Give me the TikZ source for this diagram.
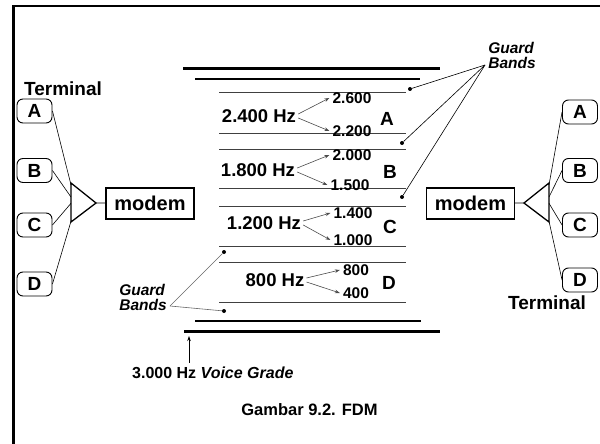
\documentclass[tikz,border=0pt]{standalone}
\usepackage{fontspec}
\setmainfont{Liberation Sans}
\usetikzlibrary{calc,arrows.meta}

\begin{document}
\begin{tikzpicture}[x=1pt,y=-1pt,
        term/.style={draw, line width=0.9pt, rounded corners=6pt, minimum width=35pt, minimum height=24pt, inner sep=0pt, font=\fontsize{19}{19}\selectfont\bfseries},
        modembox/.style={draw, line width=1.3pt, minimum width=88pt, minimum height=31pt, inner sep=0pt, font=\fontsize{20}{20}\selectfont\bfseries},
        freq/.style={font=\fontsize{18.5}{18.5}\selectfont\bfseries, inner sep=0pt},
        sub/.style={font=\fontsize{15.5}{15.5}\selectfont\bfseries, inner sep=0pt},
        chan/.style={font=\fontsize{19}{19}\selectfont\bfseries, inner sep=0pt},
        guard/.style={font=\fontsize{15.5}{15}\selectfont\bfseries\itshape, align=left, inner sep=0pt},
        band/.style={line width=1pt, black!75},
        gdot/.style={circle, fill, inner sep=0pt, minimum size=4pt},
        sarrow/.style={->, line width=0.6pt, black!70},
        >={Stealth[length=5pt,width=3.5pt]}
    ]
        \useasboundingbox (0,0) rectangle (600,444);
        % Bingkai
        \draw[line width=2.4pt] (13.5,444) -- (13.5,6) -- (600,6);
        % Garis pita frekuensi
        \draw[line width=3pt] (183,69) -- (440,69);
        \draw[line width=1.5pt] (195,79) -- (420,79);
        \foreach \y in {93,133,149,188,206,246,262,302}
            \draw[band] (219,\y) -- (406,\y);
        \draw[line width=1.5pt] (195,321) -- (421,321);
        \draw[line width=3pt] (184,331) -- (440,331);
        % Kanal A-D
        \node[freq] (fA) at (259,116) {2.400 Hz};
        \node[sub] (hA) at (352,98) {2.600};
        \node[sub] (lA) at (352,131) {2.200};
        \node[chan] (chA) at (387,119) {A};
        \node[freq] (fB) at (258,170) {1.800 Hz};
        \node[sub] (hB) at (352,155) {2.000};
        \node[sub] (lB) at (350,185) {1.500};
        \node[chan] (chB) at (390,172) {B};
        \node[freq] (fC) at (264,223) {1.200 Hz};
        \node[sub] (hC) at (353,213) {1.400};
        \node[sub] (lC) at (353,240) {1.000};
        \node[chan] (chC) at (390,227) {C};
        \node[freq] (fD) at (275,280) {800 Hz};
        \node[sub] (hD) at (356,270) {800};
        \node[sub] (lD) at (356,293) {400};
        \node[chan] (chD) at (389,283) {D};
        \foreach \c in {A,B,C,D}{
            \draw[sarrow] ([xshift=2pt,yshift=2pt]f\c.east) -- ([xshift=-3pt]h\c.west);
            \draw[sarrow] ([xshift=2pt,yshift=-2pt]f\c.east) -- ([xshift=-3pt]l\c.west);
        }
        % Guard bands
        \node[gdot] (g1) at (410,89) {};
        \node[gdot] (g2) at (402,143) {};
        \node[gdot] (g3) at (402,197) {};
        \node[gdot] (g4) at (224,252) {};
        \node[gdot] (g5) at (224,311) {};
        \node[guard] (gbU) at (512,55) {Guard\\Bands};
        \node[guard] (gbL) at (143,297) {Guard\\Bands};
        \coordinate (gU) at (485,65);
        \coordinate (gL) at (170,306);
        \foreach \d in {g1,g2,g3}
            \draw[line width=0.6pt] (gU) -- (\d);
        \foreach \d in {g4,g5}
            \draw[line width=0.6pt, black!60] (gL) -- (\d);
        % Terminal kiri
        \node[font=\fontsize{19}{19}\selectfont\bfseries] (tL) at (63,89) {Terminal};
        \node[term] (LA) at (34.5,111) {A};
        \node[term] (LB) at (34.5,170.5) {B};
        \node[term] (LC) at (34.5,225) {C};
        \node[term] (LD) at (34.5,284) {D};
        \coordinate (L1) at (71,183);
        \coordinate (L2) at (71,222);
        \coordinate (L3) at (96,203);
        \draw[line width=1.3pt] (L1) -- (L3) -- (L2) -- cycle;
        \node[modembox] (mL) at (150,203.5) {modem};
        \draw[line width=0.8pt] (L3) -- (mL);
        \draw[line width=0.6pt] (LA.east) -- ($(L1)!.05!(L2)$);
        \draw[line width=0.6pt] (LB.east) -- ($(L1)!.36!(L2)$);
        \draw[line width=0.6pt] (LC.east) -- ($(L1)!.52!(L2)$);
        \draw[line width=0.6pt] (LD.east) -- ($(L1)!.98!(L2)$);
        % Terminal kanan
        \node[term] (RA) at (580,112) {A};
        \node[term] (RB) at (580,170.5) {B};
        \node[term] (RC) at (580,225) {C};
        \node[term] (RD) at (580,280) {D};
        \node[font=\fontsize{19}{19}\selectfont\bfseries] (tR) at (547,303) {Terminal};
        \coordinate (R1) at (549,183);
        \coordinate (R2) at (549,222);
        \coordinate (R3) at (524,203);
        \draw[line width=1.3pt] (R1) -- (R3) -- (R2) -- cycle;
        \node[modembox] (mR) at (470.5,203.5) {modem};
        \draw[line width=0.8pt] (mR) -- (R3);
        \draw[line width=0.6pt] (RA.west) -- ($(R1)!.05!(R2)$);
        \draw[line width=0.6pt] (RB.west) -- ($(R1)!.36!(R2)$);
        \draw[line width=0.6pt] (RC.west) -- ($(R1)!.52!(R2)$);
        \draw[line width=0.6pt] (RD.west) -- ($(R1)!.98!(R2)$);
        % Voice grade
        \node[font=\fontsize{16}{16}\selectfont\bfseries, anchor=west, inner sep=0pt] (vg) at (132,373) {3.000 Hz \textit{Voice Grade}};
        \coordinate (vgtip) at (189,336);
        \draw[->, line width=0.7pt] (vgtip |- vg.north) ++(0,-4) -- (vgtip);
        % Judul
        \node[font=\fontsize{16.5}{16.5}\selectfont\bfseries] (cap) at (309.5,410) {Gambar 9.2. FDM};
    \end{tikzpicture}
\end{document}
